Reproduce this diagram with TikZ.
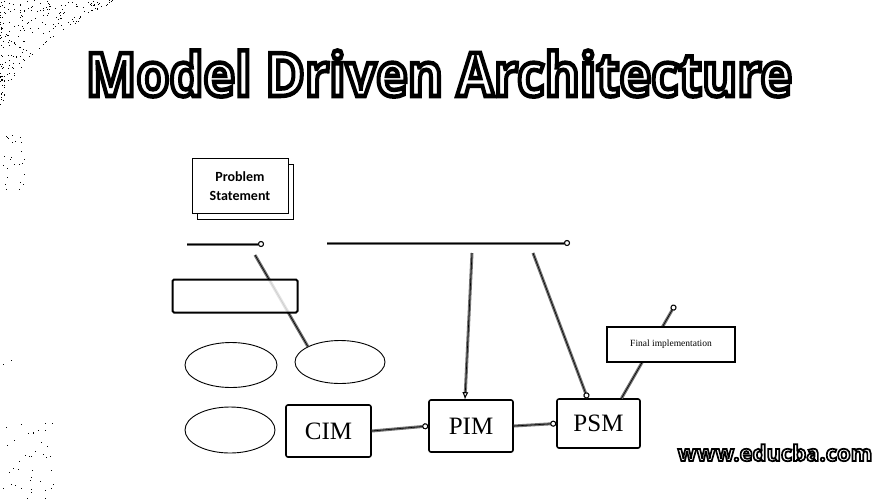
\documentclass[tikz,border=0pt]{standalone}
\usepackage{fontspec}
\setmainfont{Liberation Serif}
\newfontfamily\titlefont{Open Sans}
\newfontfamily\psfont{Carlito}
\usetikzlibrary{shapes.geometric,arrows.meta,calc}
\newcommand{\outlined}[2]{\special{pdf:literal direct #1 w 2 Tr}\textcolor{white}{\special{pdf:literal direct 0 G}#2}\special{pdf:literal direct 0 Tr}}
\tikzset{
  box/.style={draw, line width=1.6pt, rounded corners=2pt, fill=white, inner sep=0pt},
  ell/.style={draw, ellipse, line width=0.9pt, inner sep=0pt},
  conn/.style={line width=0.6pt, preaction={draw, black!55, line width=3pt}},
  ctip/.style={-{Circle[open,length=6pt,line width=0.9pt]}},
  ttip/.style={-{Latex[open,length=7pt,width=6pt,line width=0.9pt]}},
}
\begin{document}
\begin{tikzpicture}[x=1pt,y=-1pt]
\useasboundingbox (0,0) rectangle (883,499);
% background dots
\pgfmathsetseed{7}
\foreach \i in {1,...,230}{
  \pgfmathsetmacro\u{rnd}\pgfmathsetmacro\v{rnd*(1-\u)}
  \fill ({115*\u*\u},{118*\v}) rectangle ++(1,1);
}
\foreach \i in {1,...,25}{\fill ({3+22*rnd},{133+65*rnd}) rectangle ++(1,1);}
\foreach \i in {1,...,40}{\fill ({3+50*rnd},{422+76*rnd}) rectangle ++(1,1);}
\fill (3,364) rectangle ++(1,1); \fill (11,360) rectangle ++(1,1);
% title
\node[anchor=base, inner sep=0pt] (title) at (439,96) {\titlefont\bfseries\fontsize{60}{60}\selectfont\scalebox{0.893}[1]{\outlined{4.5}{Model Driven Architecture}}};
% watermark
\node[anchor=base, inner sep=0pt] (wm) at (775,461) {\titlefont\bfseries\fontsize{22}{22}\selectfont\outlined{1.7}{www.educba.com}};
% problem statement
\node[draw, line width=1pt, fill=white, minimum width=96, minimum height=55] (psh) at (245,192) {};
\node[draw, line width=1pt, fill=white, minimum width=96, minimum height=55, align=center, font=\psfont\bfseries\fontsize{14}{19}\selectfont] (ps) at (240,186) {Problem\\Statement};
% horizontal lines
\coordinate (h1s) at (187,244); \coordinate (h1e) at (264,244);
\coordinate (h2s) at (327,243); \coordinate (h2e) at (570,243);
\draw[conn, ctip] (h1s) -- (h1e);
\draw[conn, ctip] (h2s) -- (h2e);
% ellipses
\node[ell, minimum width=92, minimum height=45] (e1) at (231,365) {};
\node[ell, minimum width=90, minimum height=43] (e2) at (340,362) {};
\node[ell, minimum width=90, minimum height=46] (e3) at (230,430) {};
% line through empty box
\coordinate (l1s) at (255,255);
\draw[conn] (l1s) -- (e2.north west);
\node[draw, line width=2pt, rounded corners=1.5pt, fill=white, fill opacity=0.8, minimum width=125, minimum height=33] (eb) at (235,296) {};
% model boxes
\node[box, minimum width=85, minimum height=52, font=\fontsize{25}{25}\selectfont] (cim) at (328.5,431) {CIM};
\node[box, minimum width=84, minimum height=52, font=\fontsize{25}{25}\selectfont] (pim) at (471,426) {PIM};
\node[box, minimum width=83, minimum height=49, font=\fontsize{25}{25}\selectfont] (psm) at (598.5,423.5) {PSM};
\draw[conn, ctip] (cim.east) -- (pim.west);
\draw[conn, ctip] (pim.east) -- (psm.west);
% lines from the top
\coordinate (l2s) at (472,253);
\coordinate (l3s) at (533,253);
\draw[conn, ttip] (l2s) -- ([xshift=-6pt]pim.north);
\draw[conn, ctip] (l3s) -- ([xshift=-11pt]psm.north);
\coordinate (l4e) at (675,305);
\draw[conn, ctip] ([xshift=23pt]psm.north) -- (l4e);
\node[draw, line width=1.5pt, fill=white, minimum width=128, minimum height=35, font=\fontsize{9.5}{10}\selectfont] (fin) at (671,344.5) {Final implementation};
\end{tikzpicture}
\end{document}
